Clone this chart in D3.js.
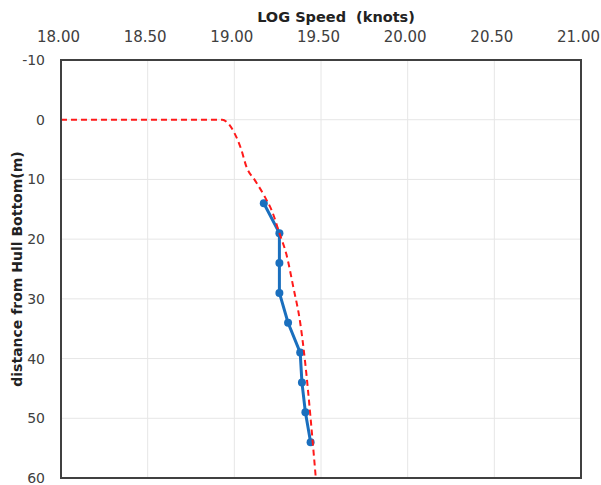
<!DOCTYPE html>
<html><head><meta charset="utf-8">
<script src="https://cdn.jsdelivr.net/npm/d3@7"></script>
<style>body{margin:0;background:#fff}text{font-family:"DejaVu Sans",Verdana,sans-serif}</style>
</head><body>
<svg id="c" width="601" height="485"></svg>
<script>
const xTicks = [18.0, 18.5, 19.0, 19.5, 20.0, 20.5, 21.0];
const yTicks = [-10, 0, 10, 20, 30, 40, 50, 60];
// measured (blue) series
const measDepth = [14, 19, 24, 29, 34, 39, 44, 49, 54];
const measSpeed = [19.17, 19.26, 19.26, 19.26, 19.31, 19.38, 19.39, 19.41, 19.44];
// model (red dashed) series
const modelDepth = [0, 0, 0.8, 2.2, 5, 7.9, 10.2, 12.6, 15.5, 19, 22.5, 28, 34, 41, 50, 60];
const modelSpeed = [18.00, 18.93, 18.97, 19.00, 19.04, 19.07, 19.12, 19.17, 19.22, 19.26, 19.30, 19.34, 19.38, 19.41, 19.44, 19.47];

const svg = d3.select("#c");
const L = 61, R = 581, T = 60, B = 478;
const x = d3.scaleLinear().domain([18, 21]).range([L, R]);
const y = d3.scaleLinear().domain([-10, 60]).range([T, B]);

// gridlines
svg.append("g").selectAll("line").data(xTicks).join("line")
  .attr("x1", d => x(d)).attr("x2", d => x(d)).attr("y1", T).attr("y2", B)
  .attr("stroke", "#e6e6e6").attr("stroke-width", 1);
svg.append("g").selectAll("line").data(yTicks).join("line")
  .attr("x1", L).attr("x2", R).attr("y1", d => y(d)).attr("y2", d => y(d))
  .attr("stroke", "#e6e6e6").attr("stroke-width", 1);

// axes (labels only)
const xAxis = d3.axisTop(x).tickValues(xTicks).tickFormat(d3.format(".2f")).tickSize(0).tickPadding(0);
const gx = svg.append("g").attr("transform", `translate(-3,${T})`).call(xAxis);
gx.select(".domain").remove();
gx.selectAll("text").attr("y", -23).attr("dy", "0.35em").attr("font-size", 15).attr("fill", "#404040")
  .style("font-family", '"DejaVu Sans",Verdana,sans-serif');

const yAxis = d3.axisLeft(y).tickValues(yTicks).tickFormat(d => String(d)).tickSize(0).tickPadding(0);
const gy = svg.append("g").attr("transform", `translate(45,0)`).call(yAxis);
gy.select(".domain").remove();
gy.selectAll("text").attr("x", 0).attr("font-size", 14).attr("fill", "#404040")
  .style("font-family", '"DejaVu Sans",Verdana,sans-serif');

// series
const modelData = modelDepth.map((d, i) => [modelSpeed[i], d]);
const measData = measDepth.map((d, i) => [measSpeed[i], d]);
const line = d3.line().x(d => x(d[0])).y(d => y(d[1]));
const smooth = d3.line().x(d => x(d[0])).y(d => y(d[1])).curve(d3.curveMonotoneX);

svg.append("path").datum(measData).attr("d", line)
  .attr("fill", "none").attr("stroke", "#1a6fbe").attr("stroke-width", 3);
svg.append("g").selectAll("circle").data(measData).join("circle")
  .attr("cx", d => x(d[0])).attr("cy", d => y(d[1])).attr("r", 4)
  .attr("fill", "#1a6fbe");

svg.append("path").datum(modelData).attr("d", smooth)
  .attr("fill", "none").attr("stroke", "#ff1a1a").attr("stroke-width", 2)
  .attr("stroke-dasharray", "6,4");

// border
svg.append("rect").attr("x", L).attr("y", T).attr("width", R - L).attr("height", B - T)
  .attr("fill", "none").attr("stroke", "#404040").attr("stroke-width", 2);

// titles
svg.append("text").attr("x", 336).attr("y", 22).attr("text-anchor", "middle")
  .attr("font-size", 14.5).attr("font-weight", "bold").attr("fill", "#222")
  .attr("xml:space", "preserve").style("white-space", "pre").text("LOG Speed  (knots)");
svg.append("text").attr("transform", `translate(17,${(T + B) / 2}) rotate(-90)`)
  .attr("text-anchor", "middle").attr("dy", "0.35em")
  .attr("font-size", 14).attr("font-weight", "bold").attr("fill", "#222")
  .text("distance from Hull Bottom(m)");
</script>
</body></html>
